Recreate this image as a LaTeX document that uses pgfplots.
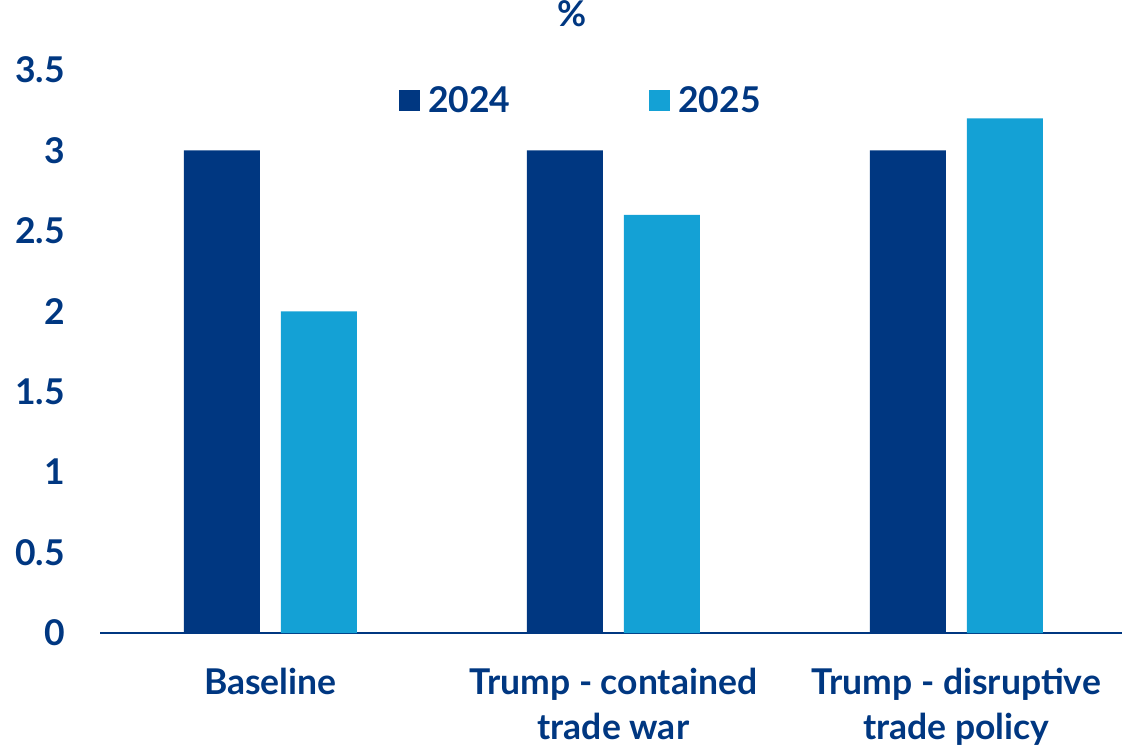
\documentclass[border=0pt]{standalone}
\usepackage{pgfplots}
\pgfplotsset{compat=1.18}
\usepackage{fontspec}
\setmainfont{Lato}
\definecolor{dblue}{HTML}{003781}
\definecolor{lblue}{HTML}{14A1D5}
\newcommand{\cf}{\fontsize{35.5}{45}\selectfont\bfseries}
\begin{document}
\begin{tikzpicture}[x=1pt,y=1pt]
\begin{axis}[
  at={(100pt,114pt)}, anchor=south west,
  scale only axis, width=1022pt, height=563pt,
  xmin=-0.497, xmax=2.483, ymin=0, ymax=3.5,
  ybar=21pt, bar width=76pt,
  axis x line=bottom, axis y line=left,
  x axis line style={-, draw=dblue, line width=2pt},
  y axis line style={draw=none},
  tick style={draw=none},
  ytick={0,0.5,1,1.5,2,2.5,3,3.5},
  yticklabels={0,0.5,1,1.5,2,2.5,3,3.5},
  xtick={0,1,2},
  xticklabels={Baseline,Trump - contained\\trade war,Trump - disruptive\\trade policy},
  /pgf/number format/assume math mode=true,
  yticklabel style={font=\cf, text=dblue, anchor=east, inner sep=0pt, xshift=-33pt},
  xticklabel style={font=\cf, text=dblue, align=center, anchor=north, inner sep=0pt, yshift=-33pt},
  title={\%}, title style={font=\cf, text=dblue, at={(0.462,1.089)}, anchor=center, inner sep=0pt},
  legend columns=2,
  legend style={draw=none, fill=none, at={(0.2926,0.946)}, anchor=west, inner sep=0pt, outer sep=0pt,
    font=\cf, text=dblue, nodes={inner sep=0pt},
    /tikz/every odd column/.append style={column sep=8pt},
    /tikz/every even column/.append style={column sep=139pt}},
  legend image code/.code={\fill[#1, draw=none] (0pt,-10.5pt) rectangle (21pt,10.5pt);},
  clip=false,
]
\addplot[fill=dblue, draw=none] coordinates {(0,3) (1,3) (2,3)};
\addplot[fill=lblue, draw=none] coordinates {(0,2) (1,2.6) (2,3.2)};
\legend{2024,2025}
\end{axis}
\pgfresetboundingbox
\path (0,0) rectangle (1122,747);
\end{tikzpicture}
\end{document}
